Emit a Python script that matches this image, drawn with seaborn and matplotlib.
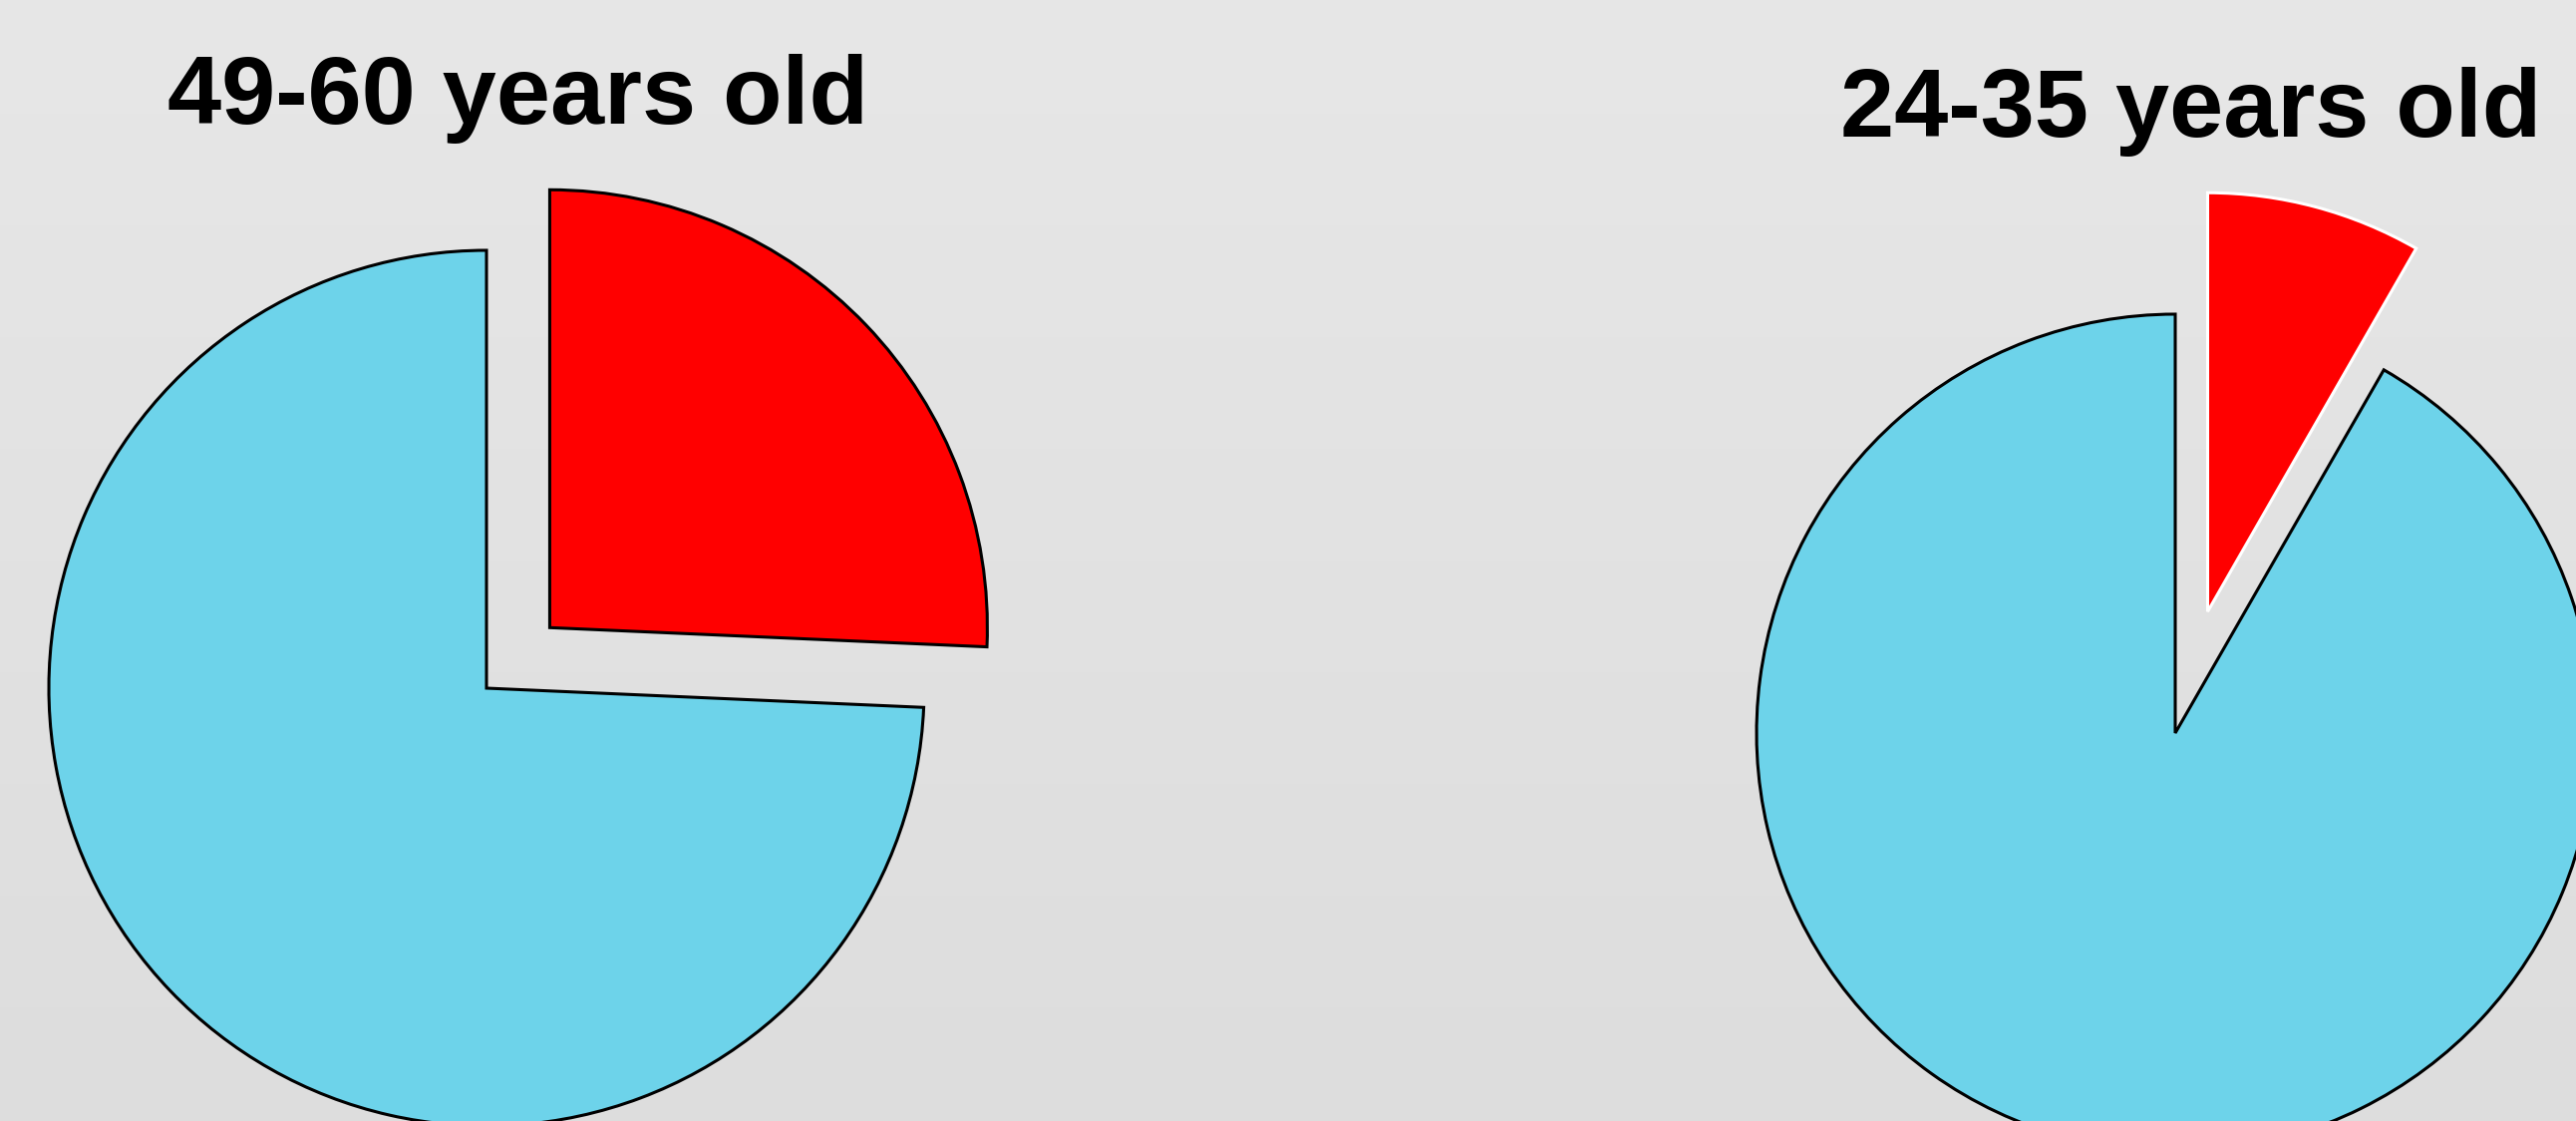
import numpy as np
import matplotlib
matplotlib.use("Agg")
import matplotlib.pyplot as plt
import seaborn as sns

# ---- data ----
titles = ["49-60 years old", "24-35 years old"]
categories = ["Highlighted", "Others"]
left_values = [25.7, 74.3]
right_values = [8.3, 91.7]
colors = ["#ff0000", "#6dd3ea"]

sns.set_style("white")
plt.rcParams["font.family"] = ["Liberation Sans", "DejaVu Sans"]

W, H = 2584, 1124
fig = plt.figure(figsize=(W / 100, H / 100), dpi=100)
ax = fig.add_axes([0, 0, 1, 1])

# background gradient (lighter at top)
grad = np.linspace(221, 231, 256).reshape(-1, 1) / 255.0
ax.imshow(np.dstack([grad, grad, grad]), extent=[0, W, 0, H], origin="lower",
          aspect="auto", zorder=0, interpolation="bicubic")

pies = [
    (left_values, (488, H - 690), 439, 0.20, "black"),
    (right_values, (2182, H - 735), 420, 0.30, "white"),
]
for vals, center, r, ex, red_edge in pies:
    # matplotlib's explode offset is in data units, so scale by radius
    wedges, _ = ax.pie(vals, colors=colors, startangle=90, counterclock=False,
                       explode=[ex * r, 0], center=center, radius=r,
                       wedgeprops=dict(linewidth=2.2, edgecolor="black"))
    for w in wedges:
        w.set_zorder(2)
    wedges[0].set_edgecolor(red_edge)

ax.text(519, H - 124, titles[0], ha="center", va="baseline", fontsize=70,
        fontweight="bold", color="black", zorder=3)
ax.text(2198, H - 137, titles[1], ha="center", va="baseline", fontsize=70,
        fontweight="bold", color="black", zorder=3)

ax.set_xlim(0, W)
ax.set_ylim(0, H)
ax.set_aspect("auto")
ax.axis("off")

fig.savefig("out.png", dpi=100)
